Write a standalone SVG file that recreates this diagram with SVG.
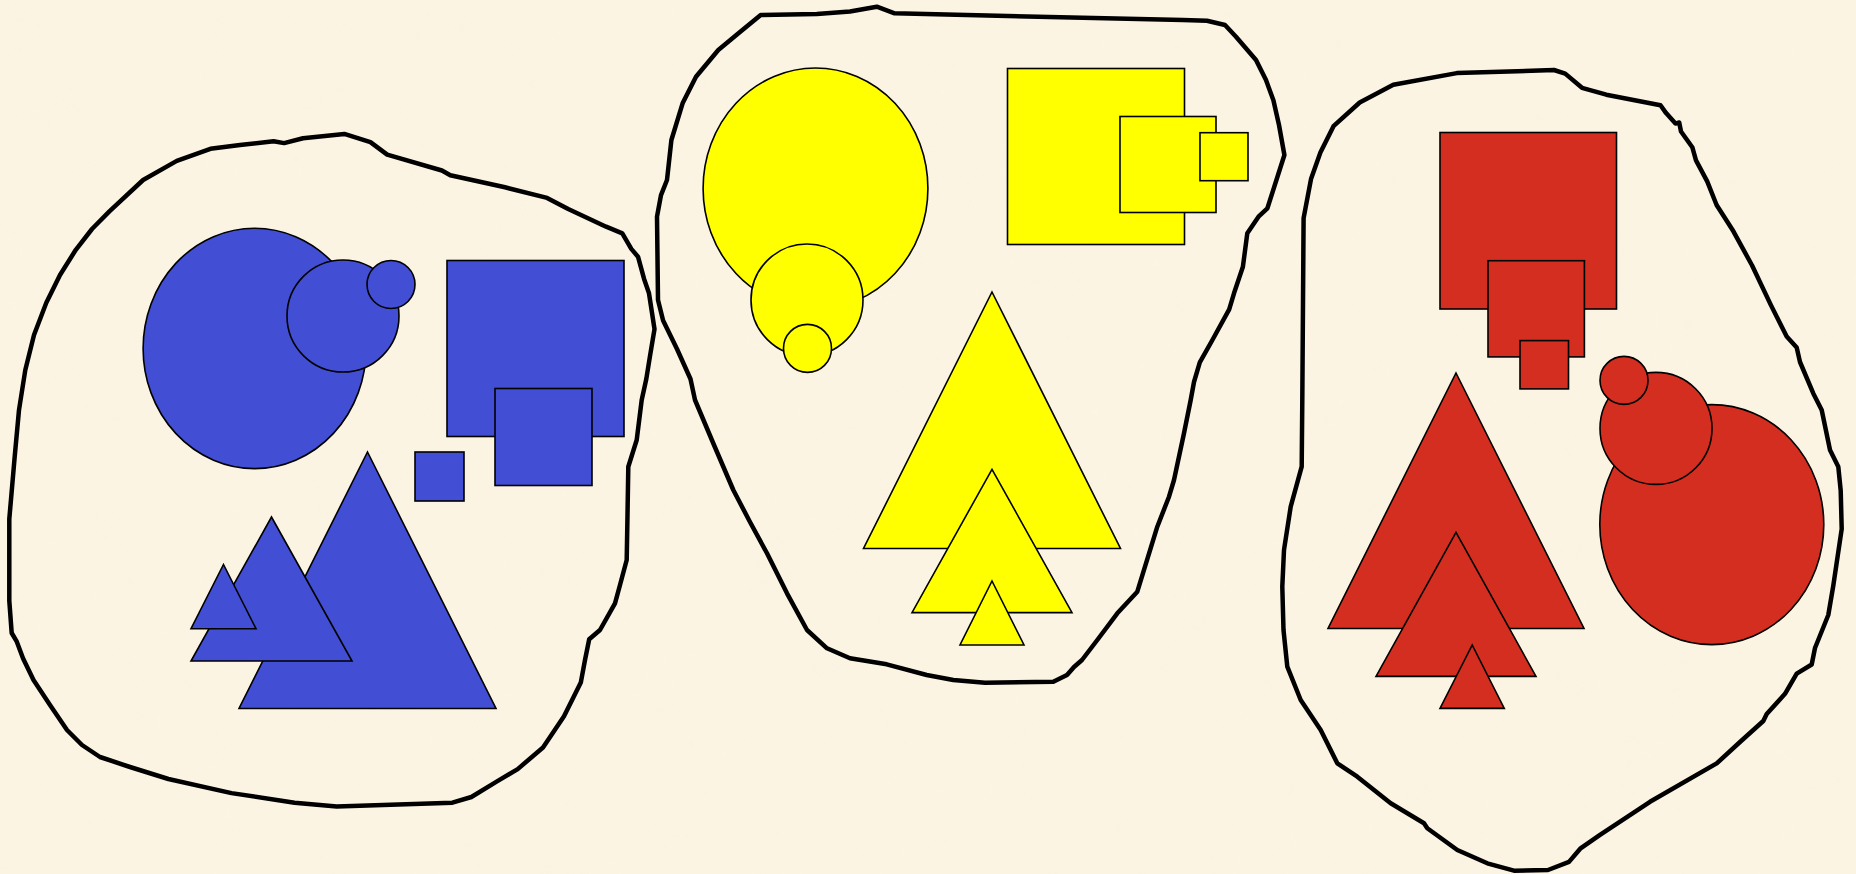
<svg xmlns="http://www.w3.org/2000/svg" width="1856" height="874" viewBox="0 0 1856 874">
<defs>
<style>
.blob{fill:none;stroke:#000;stroke-width:4.5;stroke-linejoin:round;stroke-linecap:round}
.s{stroke:#000;stroke-width:1.6}
.b{fill:#424ED3}
.y{fill:#FFFF00}
.r{fill:#D32E1F}
</style>
<filter id="paper" x="0" y="0" width="100%" height="100%">
<feTurbulence type="fractalNoise" baseFrequency="0.02" numOctaves="3" seed="4"/>
<feColorMatrix type="matrix" values="0 0 0 0 0.93  0 0 0 0 0.88  0 0 0 0 0.76  0 0 0 -1.2 0.6"/>
</filter>
</defs>
<rect width="1856" height="874" fill="#FCF4E3"/>
<rect width="1856" height="874" filter="url(#paper)" opacity="0.35"/>

<g id="outlines">
<path id="outline-blue" class="blob" d="M273.6,141.2 L284.1,143.1 L303,138.3 L344.3,133.9 L370.4,142.1 L387.2,154.6 L441.9,170.5 L450.3,175.3 L505,187.3 L547.1,197.9 L568.2,209 L606.1,226.7 L622.3,233.3 L631.3,248.9 L638,256.7 L644,278.7 L649,293.3 L654.5,329.2 L650,356 L646.3,379 L641.7,400 L636.7,440 L628.3,466.7 L627.5,515 L626.7,560 L620,585 L615,603.3 L600,630 L589.2,639.3 L585,660 L580.8,682.6 L564,716.2 L543,747.5 L517.7,769.1 L496.6,781.6 L471.4,797 L452.4,802.7 L336.7,806.6 L294.6,802.7 L231.5,793.1 L168.4,779 L130,767 L100,757 L82,745 L67,730 L50,705 L33.5,680 L23.1,658.5 L16.8,641.7 L11.7,633 L9.3,600.8 L9.3,519 L14.7,456.6 L19,410 L25.3,370 L34,335 L46.3,302.7 L60,275 L75.8,249.8 L92,229 L109.4,211.4 L143.1,180 L176.8,160.9 L210.4,148.8 L240,145 Z"/>
<path id="outline-yellow" class="blob" d="M760.7,15 L816.8,14 L850,11.5 L876.8,6.7 L894.6,13.3 L1182.9,20.1 L1207,20.7 L1225,25 L1236,36.7 L1256,60 L1266,80 L1273.4,100.3 L1279,125 L1284.4,155 L1267.4,208.3 L1258.5,216.7 L1247.3,233.3 L1242.9,266.7 L1234,293.3 L1229.2,309.4 L1212.4,340 L1199.8,362.3 L1194,382 L1190.7,400 L1184,433.3 L1174,480 L1169,496.7 L1157.3,526.7 L1137.3,591.7 L1117.3,613.3 L1097.3,640 L1082,660 L1074,667 L1067,675 L1053.3,681.7 L985,682.7 L953.3,680 L926.7,675 L886.7,664.3 L850,658.3 L827,648.3 L807,630 L787,593.3 L767,553.3 L750,522 L733.3,490 L714,445 L695,400 L690.5,379 L677,349 L663.1,320.5 L658,300 L657,216.7 L661,195.1 L667,180 L671.4,140 L682.6,103.3 L696,76.7 L718.3,50 L740,32 Z"/>
<path id="outline-red" class="blob" d="M1333.5,126.2 L1359.7,102.5 L1393.3,84.7 L1456.8,73.1 L1554,70 L1565.2,73.6 L1582,87.8 L1606.3,94.7 L1660.5,105.2 L1666.1,113.1 L1675.5,123.6 L1679.2,122.5 L1681,131.5 L1692.3,147.2 L1696,160.4 L1707.2,181.4 L1716.6,205 L1733.4,231.3 L1752.1,265.5 L1770.8,304.9 L1786.7,336.6 L1796.7,347.6 L1800,362 L1813.3,393.4 L1821.7,410 L1830,450 L1838.3,466.7 L1840.7,490.5 L1841.7,529 L1833.3,585.7 L1828.3,615 L1815,648 L1811.7,664.5 L1796.7,673.6 L1785,693.8 L1766.7,714 L1763.3,721 L1740,742 L1716.7,763.4 L1650,801.8 L1600,834.8 L1580.2,848.7 L1569,861.9 L1548,870 L1514,870.7 L1487.3,863.3 L1457.3,850 L1427.3,828.3 L1424,823.3 L1390.7,803.3 L1357.3,776.7 L1337.3,763.3 L1320.7,730 L1300.7,700 L1287.3,666.7 L1283.5,630 L1282.3,586.7 L1284,550 L1290.7,506.7 L1301.7,466.7 L1302.3,400 L1303.6,218.2 L1311.1,178.7 L1320.4,152.5 Z"/>
</g>

<g id="blue-circles">
<ellipse id="blue-circle-big" class="b s" cx="254.6" cy="348.4" rx="111.5" ry="120.2"/>
<circle id="blue-circle-mid" class="b s" cx="343" cy="316" r="56"/>
<circle id="blue-circle-small" class="b s" cx="391" cy="284.5" r="24"/>
</g>
<g id="blue-squares">
<rect id="blue-square-big" class="b s" x="447" y="260.5" width="177" height="176"/>
<rect id="blue-square-mid" class="b s" x="495" y="388.5" width="97" height="97"/>
<rect id="blue-square-small" class="b s" x="415" y="452" width="49" height="49"/>
</g>
<g id="blue-triangles">
<polygon id="blue-tri-big" class="b s" points="367.5,452 496,708.5 239,708.5"/>
<polygon id="blue-tri-mid" class="b s" points="271.5,517 352,661 191,661"/>
<polygon id="blue-tri-small" class="b s" points="223.5,564.5 256,628.7 191,628.7"/>
</g>

<g id="yellow-circles">
<ellipse id="yellow-circle-big" class="y s" cx="815.5" cy="188.4" rx="112.4" ry="120.4"/>
<circle id="yellow-circle-mid" class="y s" cx="807" cy="300" r="56"/>
<circle id="yellow-circle-small" class="y s" cx="807.5" cy="348.4" r="24"/>
</g>
<g id="yellow-squares">
<rect id="yellow-square-big" class="y s" x="1007.5" y="68.5" width="177" height="176"/>
<rect id="yellow-square-mid" class="y s" x="1120" y="116.5" width="96" height="96"/>
<rect id="yellow-square-small" class="y s" x="1200" y="132.7" width="48" height="48"/>
</g>
<g id="yellow-triangles">
<polygon id="yellow-tri-big" class="y s" points="992,292 1120.5,548.5 863.5,548.5"/>
<polygon id="yellow-tri-mid" class="y s" points="992,469.3 1072,612.6 912,612.6"/>
<polygon id="yellow-tri-small" class="y s" points="992,581 1024,645 960,645"/>
</g>

<g id="red-squares">
<rect id="red-square-big" class="r s" x="1440" y="132.5" width="176.5" height="176.5"/>
<rect id="red-square-mid" class="r s" x="1488" y="260.7" width="96.4" height="96.2"/>
<rect id="red-square-small" class="r s" x="1520" y="340.6" width="48.5" height="48.3"/>
</g>
<g id="red-circles">
<ellipse id="red-circle-big" class="r s" cx="1711.8" cy="524.6" rx="112" ry="120"/>
<circle id="red-circle-mid" class="r s" cx="1656" cy="428.4" r="56"/>
<circle id="red-circle-small" class="r s" cx="1624" cy="380.4" r="24"/>
</g>
<g id="red-triangles">
<polygon id="red-tri-big" class="r s" points="1456,373 1584,628.5 1328,628.5"/>
<polygon id="red-tri-mid" class="r s" points="1456,532.4 1536,676.4 1376,676.4"/>
<polygon id="red-tri-small" class="r s" points="1472.2,645 1504.3,708.4 1440,708.4"/>
</g>
</svg>
